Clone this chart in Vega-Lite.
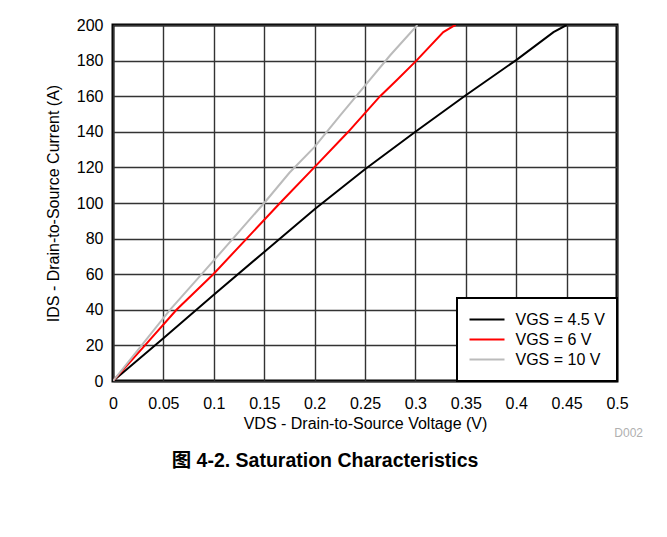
{
  "$schema": "https://vega.github.io/schema/vega-lite/v6.json",
  "autosize": "none",
  "width": 504,
  "height": 356,
  "padding": {"left": 113, "top": 25, "right": 50, "bottom": 156},
  "background": "white",
  "config": {
    "font": "Liberation Sans, Noto Sans CJK SC, sans-serif",
    "view": {"stroke": "black", "strokeWidth": 3},
    "axis": {
      "labelFont": "Liberation Sans",
      "titleFont": "Liberation Sans",
      "labelFontSize": 16,
      "titleFontSize": 16,
      "labelColor": "black",
      "titleColor": "black",
      "titleFontWeight": "normal",
      "ticks": false,
      "domain": false,
      "labelOverlap": false,
      "labelFlush": false,
      "gridColor": "#333333",
      "gridWidth": 1.4,
      "gridOpacity": 1
    },
    "legend": {
      "labelFont": "Liberation Sans",
      "labelFontSize": 16,
      "labelColor": "black"
    }
  },
  "title": {
    "text": "图 4-2. Saturation Characteristics",
    "orient": "bottom",
    "anchor": "middle",
    "frame": "group",
    "dx": -40,
    "font": "Liberation Sans, Noto Sans CJK SC",
    "fontSize": 19.5,
    "fontWeight": "bold",
    "color": "black",
    "offset": 13
  },
  "data": {
    "values": [
      {"series": "VGS = 4.5 V", "v": 0, "i": 0},
      {"series": "VGS = 4.5 V", "v": 0.05, "i": 24},
      {"series": "VGS = 4.5 V", "v": 0.1, "i": 48.5},
      {"series": "VGS = 4.5 V", "v": 0.15, "i": 72.5},
      {"series": "VGS = 4.5 V", "v": 0.2, "i": 96.5},
      {"series": "VGS = 4.5 V", "v": 0.25, "i": 119},
      {"series": "VGS = 4.5 V", "v": 0.3, "i": 140},
      {"series": "VGS = 4.5 V", "v": 0.35, "i": 160.5},
      {"series": "VGS = 4.5 V", "v": 0.4, "i": 180.3},
      {"series": "VGS = 4.5 V", "v": 0.437, "i": 196},
      {"series": "VGS = 4.5 V", "v": 0.45, "i": 200},
      {"series": "VGS = 6 V", "v": 0, "i": 0},
      {"series": "VGS = 6 V", "v": 0.0317, "i": 20},
      {"series": "VGS = 6 V", "v": 0.063, "i": 40},
      {"series": "VGS = 6 V", "v": 0.0995, "i": 60},
      {"series": "VGS = 6 V", "v": 0.1326, "i": 80},
      {"series": "VGS = 6 V", "v": 0.1657, "i": 100},
      {"series": "VGS = 6 V", "v": 0.1997, "i": 120},
      {"series": "VGS = 6 V", "v": 0.2334, "i": 140},
      {"series": "VGS = 6 V", "v": 0.265, "i": 160},
      {"series": "VGS = 6 V", "v": 0.2814, "i": 169},
      {"series": "VGS = 6 V", "v": 0.301, "i": 180},
      {"series": "VGS = 6 V", "v": 0.3277, "i": 196},
      {"series": "VGS = 6 V", "v": 0.3376, "i": 199.4},
      {"series": "VGS = 6 V", "v": 0.34, "i": 200},
      {"series": "VGS = 10 V", "v": 0, "i": 0},
      {"series": "VGS = 10 V", "v": 0.0284, "i": 20},
      {"series": "VGS = 10 V", "v": 0.0565, "i": 40},
      {"series": "VGS = 10 V", "v": 0.088, "i": 60},
      {"series": "VGS = 10 V", "v": 0.119, "i": 80},
      {"series": "VGS = 10 V", "v": 0.15, "i": 100},
      {"series": "VGS = 10 V", "v": 0.175, "i": 117},
      {"series": "VGS = 10 V", "v": 0.2, "i": 131.5},
      {"series": "VGS = 10 V", "v": 0.225, "i": 149},
      {"series": "VGS = 10 V", "v": 0.25, "i": 166},
      {"series": "VGS = 10 V", "v": 0.275, "i": 183},
      {"series": "VGS = 10 V", "v": 0.302, "i": 200}
    ]
  },
  "layer": [
    {
      "mark": {"type": "line", "strokeWidth": 2, "clip": true},
      "encoding": {
        "x": {
          "field": "v",
          "type": "quantitative",
          "scale": {"domain": [0, 0.5], "nice": false, "zero": false},
          "axis": {
            "values": [0, 0.05, 0.1, 0.15, 0.2, 0.25, 0.3, 0.35, 0.4, 0.45, 0.5],
            "format": "~g",
            "labelPadding": 14,
            "title": "VDS - Drain-to-Source Voltage (V)",
            "titlePadding": 4
          }
        },
        "y": {
          "field": "i",
          "type": "quantitative",
          "scale": {"domain": [0, 200], "nice": false},
          "axis": {
            "values": [0, 20, 40, 60, 80, 100, 120, 140, 160, 180, 200],
            "labelPadding": 10,
            "title": "IDS - Drain-to-Source Current (A)",
            "titlePadding": 15
          }
        },
        "color": {
          "field": "series",
          "type": "nominal",
          "scale": {
            "domain": ["VGS = 4.5 V", "VGS = 6 V", "VGS = 10 V"],
            "range": ["#000000", "#ff0000", "#bbbbbb"]
          },
          "legend": {
            "title": null,
            "orient": "bottom-right",
            "offset": 0,
            "symbolType": "stroke",
            "symbolSize": 1225,
            "symbolStrokeWidth": 2,
            "labelOffset": 10,
            "clipHeight": 20,
            "rowPadding": 0,
            "padding": 11.5,
            "fillColor": "white",
            "strokeColor": "black",
            "encode": {
              "legend": {"update": {"strokeWidth": {"value": 2}}}
            }
          }
        }
      }
    },
    {
      "data": {"values": [{"label": "D002"}]},
      "mark": {
        "type": "text",
        "align": "right",
        "baseline": "top",
        "dx": 26,
        "dy": 47,
        "fontSize": 12,
        "color": "#b0b0b0",
        "font": "Liberation Sans"
      },
      "encoding": {
        "x": {
          "datum": 0.5,
          "type": "quantitative",
          "axis": {
            "values": [0, 0.05, 0.1, 0.15, 0.2, 0.25, 0.3, 0.35, 0.4, 0.45, 0.5],
            "format": "~g",
            "labelPadding": 14,
            "title": "VDS - Drain-to-Source Voltage (V)",
            "titlePadding": 4
          }
        },
        "y": {
          "datum": 0,
          "type": "quantitative",
          "axis": {
            "values": [0, 20, 40, 60, 80, 100, 120, 140, 160, 180, 200],
            "labelPadding": 10,
            "title": "IDS - Drain-to-Source Current (A)",
            "titlePadding": 15
          }
        },
        "text": {"field": "label", "type": "nominal"}
      }
    }
  ]
}
